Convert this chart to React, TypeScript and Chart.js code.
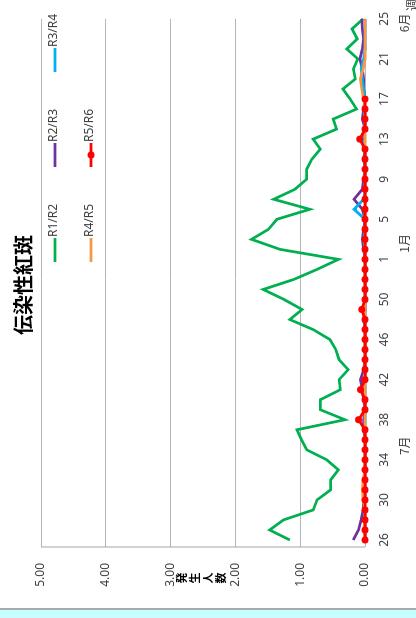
import { useEffect, useRef } from 'react';
import { Chart, registerables } from 'chart.js';

Chart.register(...registerables);

const weeks = [
  '26', '27', '28', '29', '30', '31', '32', '33', '34', '35', '36', '37', '38', '39',
  '40', '41', '42', '43', '44', '45', '46', '47', '48', '49', '50', '51', '52', '53',
  '1', '2', '3', '4', '5', '6', '7', '8', '9', '10', '11', '12', '13', '14', '15',
  '16', '17', '18', '19', '20', '21', '22', '23', '24', '25',
];

const r1r2 = [
  1.16, 1.47, 1.26, 0.8, 0.74, 0.53, 0.53, 0.41, 0.59, 0.9, 0.98, 1.05, 0.31, 0.69,
  0.69, 0.38, 0.4, 0.26, 0.4, 0.45, 0.54, 0.8, 1.16, 0.97, 1.25, 1.57, 1.1, 0.74,
  0.41, 1.31, 1.75, 1.49, 1.36, 0.85, 1.41, 1.08, 0.9, 0.9, 0.82, 0.69, 0.8, 0.44,
  0.49, 0.13, 0.23, 0.34, 0.15, 0.18, 0.11, 0.28, 0.12, 0.2, 0.03,
];
const r2r3 = [
  0.18, 0.1, 0.06, 0.03, 0.02, 0.02, 0.02, 0.0, 0.0, 0.0, 0.0, 0.02, 0.02, 0.0,
  0.02, 0.04, 0.07, 0.02, 0.0, 0.0, 0.0, 0.0, 0.02, 0.0, 0.0, 0.0, 0.0, 0.0,
  0.0, 0.02, 0.04, 0.02, 0.0, 0.04, 0.17, 0.04, 0.02, 0.0, 0.02, 0.0, 0.02, 0.0,
  0.04, 0.02, 0.0, 0.02, 0.02, 0.04, 0.08, 0.04, 0.02, 0.04, 0.05,
];
const r3r4 = [
  0.0, 0.0, 0.0, 0.02, 0.0, 0.0, 0.0, 0.0, 0.0, 0.0, 0.0, 0.0, 0.0, 0.0,
  0.0, 0.0, 0.0, 0.0, 0.0, 0.0, 0.0, 0.0, 0.0, 0.0, 0.0, 0.0, 0.0, 0.0,
  0.0, 0.0, 0.02, 0.0, 0.0, 0.17, 0.02, 0.0, 0.0, 0.0, 0.0, 0.0, 0.02, 0.0,
  0.0, 0.02, 0.0, 0.02, 0.04, 0.06, 0.02, 0.0, 0.0, 0.0, 0.0,
];
const r4r5 = [
  0.0, 0.02, 0.0, 0.0, 0.03, 0.04, 0.03, 0.0, 0.0, 0.0, 0.0, 0.0, 0.0, 0.0,
  0.0, 0.0, 0.0, 0.0, 0.0, 0.0, 0.0, 0.0, 0.0, 0.0, 0.0, 0.0, 0.0, 0.0,
  0.0, 0.0, 0.0, 0.0, 0.0, 0.0, 0.0, 0.0, 0.0, 0.0, 0.0, 0.0, 0.0, 0.0,
  0.0, 0.0, 0.02, 0.05, 0.07, 0.03, 0.0, 0.0, 0.0, 0.0, 0.0,
];
const r5r6 = [
  0.0, 0.0, 0.0, 0.0, 0.0, 0.0, 0.0, 0.0, 0.0, 0.0, 0.0, 0.0, 0.1, 0.0,
  0.0, 0.07, 0.0, 0.0, 0.0, 0.0, 0.0, 0.0, 0.0, 0.05, 0.0, 0.0, 0.0, 0.0,
  0.0, 0.0, 0.0, 0.0, 0.0, 0.0, 0.0, 0.0, 0.0, 0.0, 0.0, 0.0, 0.08, 0.0,
  0.0, 0.0, 0.0,
];

const seriesNames = ['R1/R2', 'R2/R3', 'R3/R4', 'R4/R5', 'R5/R6'];
const seriesColors = ['#00b050', '#7030a0', '#00b0f0', '#f79646', '#ff0000'];

const titleText = '伝染性紅斑';
const yTitle = '発生人数';
const xTitle = '週';
const monthLabels = ['7月', '1月', '6月'];
const monthAnchors = [9.4, 29.6, 51.6];

const W = 605;
const H = 430;
const FONT = '"Noto Sans", "Noto Sans CJK JP", sans-serif';
const CJK = '"Noto Sans CJK JP", sans-serif';

const decorPlugin = {
  id: 'decor',
  beforeDatasetsDraw(chart: any) {
    const { ctx, chartArea, scales } = chart;
    ctx.save();
    ctx.strokeStyle = '#a6a6a6';
    ctx.lineWidth = 1;
    ctx.beginPath();
    ctx.moveTo(chartArea.left - 7, scales.y.getPixelForValue(5));
    ctx.lineTo(chartArea.left - 7, scales.y.getPixelForValue(0));
    ctx.stroke();
    ctx.restore();
  },
  afterDraw(chart: any) {
    const { ctx, scales } = chart;
    ctx.save();
    // title
    ctx.fillStyle = '#000';
    ctx.font = `bold 20px ${CJK}`;
    ctx.textAlign = 'center';
    ctx.textBaseline = 'middle';
    ctx.fillText(titleText, 320, 23);

    // legend (3 columns)
    ctx.font = `12px ${FONT}`;
    ctx.textAlign = 'left';
    ctx.fillStyle = '#404040';
    seriesNames.forEach((name, i) => {
      const col = i % 3;
      const row = Math.floor(i / 3);
      const x = 343 + col * 95;
      const y = 55 + row * 36;
      ctx.strokeStyle = seriesColors[i];
      ctx.lineWidth = 2.75;
      ctx.beginPath();
      ctx.moveTo(x, y);
      ctx.lineTo(x + 24, y);
      ctx.stroke();
      if (i === 4) {
        ctx.fillStyle = seriesColors[i];
        ctx.beginPath();
        ctx.arc(x + 12, y, 3.5, 0, Math.PI * 2);
        ctx.fill();
        ctx.fillStyle = '#404040';
      }
      ctx.fillText(name, x + 25, y - 1);
    });

    // y title, vertical stacked characters
    ctx.font = `bold 11px ${CJK}`;
    ctx.fillStyle = '#000';
    ctx.textAlign = 'center';
    Array.from(yTitle).forEach((ch, i) => {
      ctx.fillText(ch, 27, 181.5 + i * 13);
    });

    // month labels
    ctx.font = `12px ${CJK}`;
    ctx.fillStyle = '#404040';
    monthLabels.forEach((m, i) => {
      ctx.fillText(m, scales.x.getPixelForDecimal(monthAnchors[i] / (weeks.length - 1)), 404);
    });
    ctx.fillText(xTitle, 600, 412);
    ctx.restore();
  },
};

export default function App() {
  const ref = useRef<HTMLCanvasElement>(null);
  useEffect(() => {
    if (!ref.current) return;
    const data = [r1r2, r2r3, r3r4, r4r5, r5r6];
    const chart = new Chart(ref.current, {
      type: 'line',
      data: {
        labels: weeks,
        datasets: data.map((d, i) => ({
          label: seriesNames[i],
          data: d,
          borderColor: seriesColors[i],
          backgroundColor: seriesColors[i],
          borderWidth: 2.75,
          pointRadius: i === 4 ? 3.5 : 0,
          pointBorderWidth: 0,
          tension: 0,
          fill: false,
          clip: false,
          order: 4 - i,
        })),
      },
      options: {
        responsive: false,
        animation: false,
        events: [],
        layout: { padding: { top: 41, right: 13, left: 0, bottom: 0 } },
        plugins: {
          legend: { display: false },
          title: { display: false },
          tooltip: { enabled: false },
        },
        scales: {
          x: {
            offset: false,
            grid: { display: false, drawTicks: false },
            border: { display: false },
            ticks: {
              autoSkip: false,
              maxRotation: 0,
              minRotation: 0,
              padding: 12,
              color: '#404040',
              font: { size: 12, family: FONT },
              callback: (_v: any, i: number) => (i % 4 === 0 ? weeks[i] : ''),
            },
            afterFit: (s: any) => {
              s.height = 65;
            },
          },
          y: {
            min: 0,
            max: 5,
            ticks: {
              stepSize: 1,
              padding: 16,
              color: '#404040',
              font: { size: 12, family: FONT },
              callback: (v: any) => Number(v).toFixed(2),
            },
            grid: { color: '#b4b4b4', lineWidth: 1, drawTicks: true, tickLength: 7 },
            border: { display: false },
            afterFit: (s: any) => {
              s.width = 65;
            },
          },
        },
      },
      plugins: [decorPlugin],
    });
    return () => chart.destroy();
  }, []);

  return (
    <>
      <div
        style={{
          position: 'absolute',
          left: 0,
          top: 0,
          width: 416,
          height: 608,
          overflow: 'hidden',
          background: '#fff',
        }}
      >
        <div
          style={{
            position: 'absolute',
            left: 0,
            top: 0,
            width: W,
            height: H,
            transformOrigin: '0 0',
            transform: `translateY(${W}px) rotate(-90deg)`,
          }}
        >
          <canvas ref={ref} width={W} height={H} style={{ display: 'block' }} />
        </div>
      </div>
      <div
        style={{
          position: 'absolute',
          left: 0,
          top: 608,
          width: 416,
          height: 10,
          borderTop: '2px solid #a9a9a9',
          background: '#c6ffff',
          boxSizing: 'border-box',
        }}
      />
    </>
  );
}
